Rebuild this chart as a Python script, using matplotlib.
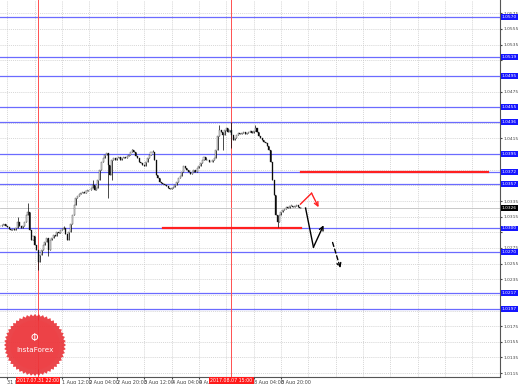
import numpy as np
import matplotlib
matplotlib.use("Agg")
import matplotlib.pyplot as plt
import matplotlib.transforms as mtransforms
from matplotlib.patches import Polygon, Circle

# H1 closes, bar 0 = 31 Jul 00:00 (weekend skipped after bar 119)
closes = [
    1.0303, 1.0304, 1.0306, 1.0303, 1.0302, 1.0299, 1.0298, 1.0299, 1.0298, 1.0300,
    1.0308, 1.0303, 1.0300, 1.0303, 1.0308, 1.0317, 1.0321, 1.0298, 1.0285, 1.0290,
    1.0279, 1.0272, 1.0257, 1.0266, 1.0272, 1.0279, 1.0283, 1.0288, 1.0272, 1.0285,
    1.0288, 1.0292, 1.0290, 1.0295, 1.0294, 1.0298, 1.0299, 1.0300, 1.0293, 1.0285,
    1.0295, 1.0306, 1.0317, 1.0330, 1.0339, 1.0341, 1.0344, 1.0345, 1.0347, 1.0345,
    1.0348, 1.0349, 1.0349, 1.0352, 1.0355, 1.0349, 1.0352, 1.0362, 1.0375, 1.0385,
    1.0390, 1.0394, 1.0396, 1.0381, 1.0368, 1.0387, 1.0390, 1.0387, 1.0390, 1.0391,
    1.0387, 1.0390, 1.0391, 1.0390, 1.0393, 1.0394, 1.0398, 1.0400, 1.0398, 1.0393,
    1.0390, 1.0385, 1.0384, 1.0381, 1.0380, 1.0385, 1.0390, 1.0394, 1.0398, 1.0398,
    1.0387, 1.0368, 1.0364, 1.0359, 1.0358, 1.0357, 1.0355, 1.0354, 1.0352, 1.0350,
    1.0352, 1.0353, 1.0355, 1.0359, 1.0364, 1.0367, 1.0372, 1.0380, 1.0377, 1.0375,
    1.0372, 1.0370, 1.0372, 1.0375, 1.0372, 1.0377, 1.0380, 1.0384, 1.0387, 1.0391,
    1.0387, 1.0387, 1.0385, 1.0385, 1.0387, 1.0390, 1.0400, 1.0418, 1.0426, 1.0423,
    1.0419, 1.0426, 1.0428, 1.0423, 1.0426, 1.0419, 1.0413, 1.0416, 1.0419, 1.0422,
    1.0421, 1.0422, 1.0423, 1.0421, 1.0422, 1.0423, 1.0425, 1.0422, 1.0425, 1.0428,
    1.0423, 1.0418, 1.0416, 1.0413, 1.0410, 1.0409, 1.0405, 1.0400, 1.0385, 1.0362,
    1.0343, 1.0317, 1.0308, 1.0317, 1.0321, 1.0324, 1.0325, 1.0327, 1.0326, 1.0329,
    1.0329, 1.0327, 1.0329, 1.0330, 1.0327, 1.0326, 1.0326,
]
first_open = 1.0303
# wick extremes where they stick out of the body
spike_highs = {10: 1.0315, 16: 1.0332, 37: 1.0303, 54: 1.0362, 77: 1.0402, 89: 1.0400,
               128: 1.0432, 135: 1.0436, 149: 1.0432}
spike_lows = {22: 1.0247, 28: 1.0265, 63: 1.0339, 65: 1.0362, 130: 1.0400, 135: 1.0403,
              162: 1.0302}

blue_levels = [1.0570, 1.0519, 1.0495, 1.0455, 1.0436, 1.0395, 1.0372, 1.0357,
               1.0300, 1.0270, 1.0217, 1.0197]
red_lines = [(95, 175.5, 1.0300), (175.5, 285, 1.0372)]   # (from bar, to bar, price)
red_vlines = [22, 135]
red_vlabels = ['2017.07.31 22:00', '2017.08.07 15:00']

# labels partly hidden by the red boxes are cut to what shows
time_ticks = [4, 36, 52, 68, 84, 100, 116, 148, 164]
time_labels = ['31 Jul', '1 Aug 12:00', '2 Aug 04:00', '2 Aug 20:00', '3 Aug 12:00',
               '4 Aug 04:00', '4 Aug 20', '8 Aug 04:00', '8 Aug 20:00']

# forecast sketches
red_path = [(175.4, 1.0331), (181.9, 1.0345), (186.0, 1.0327)]
black_path = [(178.4, 1.0326), (183.0, 1.0276), (188.9, 1.0304)]
black_dash = [(194.2, 1.0282), (198.8, 1.0249)]

fig = plt.figure(figsize=(5.18, 3.84), dpi=100)
ax = fig.add_axes([0, 7 / 384, 500 / 518, 377 / 384])
ax.set_xlim(-0.3, 292.1)
ax.set_ylim(1.0110, 1.0592)

# grid
yt = np.arange(1.0115, 1.0580, 0.002)
for y in yt:
    ax.axhline(y, color='#c8c8c8', lw=0.5, ls=(0, (1.5, 1.5)), zorder=0)
for x in range(4, 293, 16):
    ax.axvline(x, color='#c8c8c8', lw=0.5, ls=(0, (1.5, 1.5)), zorder=0)

# levels
for lv in blue_levels:
    ax.axhline(lv, color='#6b6bff', lw=0.9, zorder=1)
for x0, x1, p in red_lines:
    ax.plot([x0, x1], [p, p], color='#ff2020', lw=1.6, zorder=3)
for x in red_vlines:
    ax.axvline(x, color='#ff5050', lw=0.7, zorder=1)
ax.axhline(closes[-1], color='#c0c0c0', lw=0.6, zorder=1)

# candles
opens = [first_open] + closes[:-1]
for i, (o, c) in enumerate(zip(opens, closes)):
    hi = max(o, c, spike_highs.get(i, c))
    lo = min(o, c, spike_lows.get(i, c))
    ax.vlines(i, lo, hi, color='black', lw=0.5, zorder=4)
    h = max(abs(c - o), 0.00003)
    ax.bar(i, h, bottom=min(o, c), width=0.6, color='white' if c >= o else 'black',
           edgecolor='#222222', lw=0.25, zorder=5)

# arrows
def draw_path(pts, color, ls='-'):
    for a, b in zip(pts[:-2], pts[1:-1]):
        ax.plot([a[0], b[0]], [a[1], b[1]], color=color, lw=1.0, ls=ls, zorder=6)
    ax.annotate('', xy=pts[-1], xytext=pts[-2],
                arrowprops=dict(arrowstyle='->', color=color, lw=1.0, ls=ls,
                                shrinkA=0, shrinkB=0, mutation_scale=7), zorder=6)

draw_path(red_path, '#ff2020')
draw_path(black_path, 'black')
draw_path(black_dash, 'black', ls=(0, (3, 2)))

# axes look
for s in ['left', 'top']:
    ax.spines[s].set_visible(False)
for s in ['right', 'bottom']:
    ax.spines[s].set_color('#555555')
    ax.spines[s].set_linewidth(0.8)
ax.yaxis.tick_right()
marked = blue_levels + [closes[-1]]
ax.set_yticks(yt)
ax.set_yticklabels(['' if min(abs(v - m) for m in marked) < 0.0005 else '%.4f' % v for v in yt])
ax.tick_params(axis='y', labelsize=3.2, length=1.5, pad=1.0, colors='#444444')
ax.set_xticks(time_ticks)
ax.set_xticklabels(time_labels, ha='left')
ax.tick_params(axis='x', labelsize=3.5, length=1.5, pad=0.6, colors='#444444')

trans_r = mtransforms.blended_transform_factory(ax.transAxes, ax.transData)
for lv in blue_levels:
    ax.text(1.003, lv, '%.4f' % lv, transform=trans_r, ha='left', va='center', fontsize=3.2,
            color='white', zorder=10, clip_on=False,
            bbox=dict(boxstyle='square,pad=0.2', fc='#1515ff', ec='none'))
ax.text(1.003, closes[-1], '%.4f' % closes[-1], transform=trans_r, ha='left', va='center',
        fontsize=3.2, color='white', zorder=10, clip_on=False,
        bbox=dict(boxstyle='square,pad=0.2', fc='black', ec='none'))

trans_b = mtransforms.blended_transform_factory(ax.transData, ax.transAxes)
for x, lab in zip(red_vlines, red_vlabels):
    ax.text(x, -0.003, lab, transform=trans_b, ha='center', va='top', fontsize=3.4,
            color='white', zorder=10, clip_on=False,
            bbox=dict(boxstyle='square,pad=0.25', fc='#ff1a1a', ec='none'))

# watermark logo
ov = fig.add_axes([0, 0, 1, 1], zorder=5)
ov.set_xlim(0, 518)
ov.set_ylim(384, 0)
ov.axis('off')
cx, cy, R = 35, 345, 31
ang = np.linspace(0, 2 * np.pi, 97)[:-1]
rad = np.where(np.arange(96) % 2 == 0, R, R * 0.93)
gear = np.column_stack([cx + rad * np.cos(ang), cy + rad * np.sin(ang)])
ov.add_patch(Polygon(gear, closed=True, fc='#e8262b', ec='none', alpha=0.85))
ov.add_patch(Circle((cx, cy), R * 0.8, fc='#f04045', ec='none', alpha=0.6))
ov.text(cx, cy + 5, 'InstaForex', ha='center', va='center', fontsize=5.2, color='white')
ov.text(cx, cy - 8, '$\\Phi$', ha='center', va='center', fontsize=7, color='white')

fig.savefig('out.png', dpi=100)
